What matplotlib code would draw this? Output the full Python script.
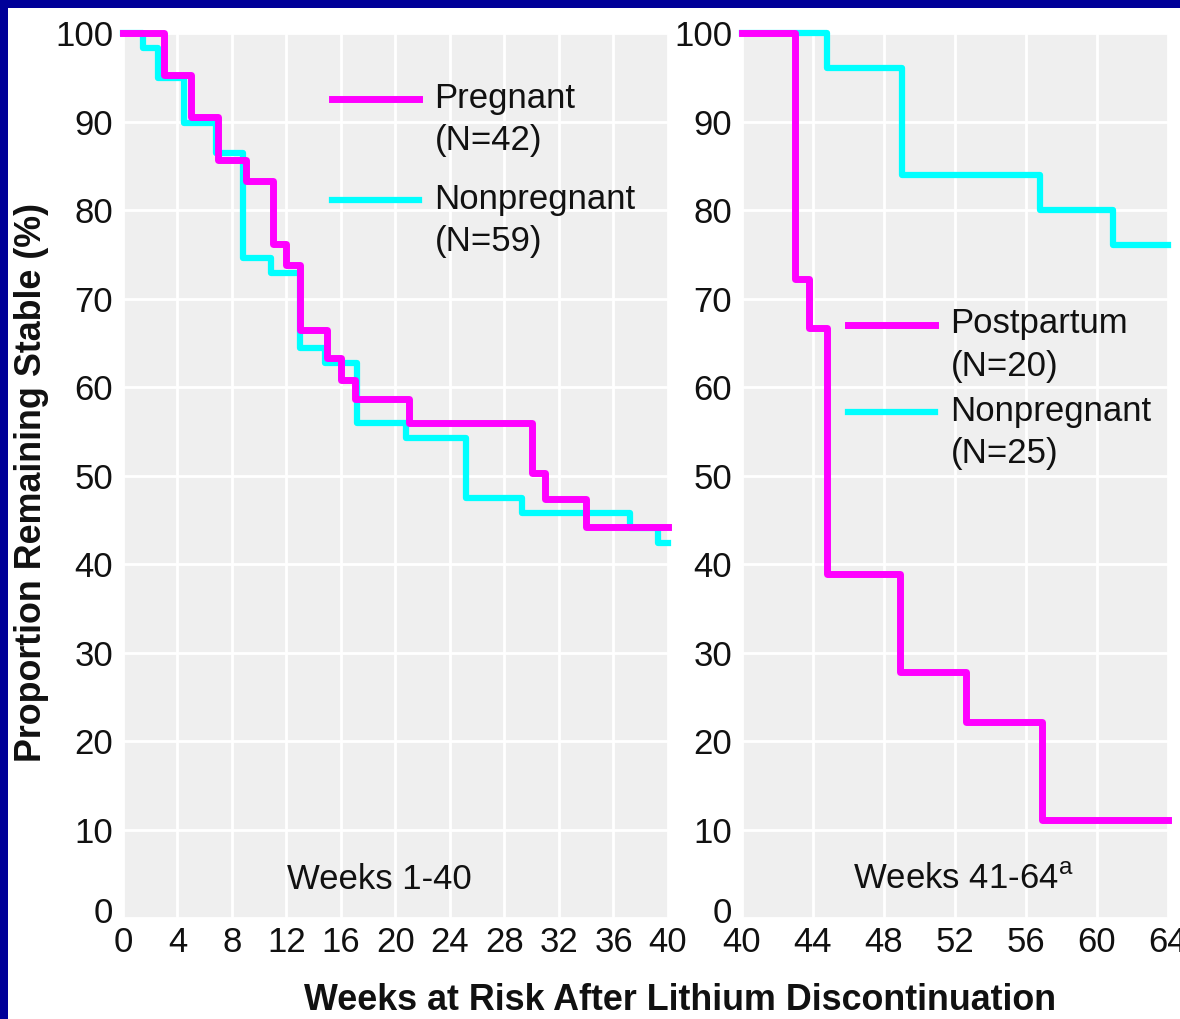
import matplotlib
matplotlib.use("Agg")
import matplotlib.pyplot as plt
from matplotlib.patches import Rectangle
from matplotlib.legend_handler import HandlerLine2D
from matplotlib.transforms import ScaledTranslation

plt.rcParams['font.family'] = ['Liberation Sans', 'DejaVu Sans']
plt.rcParams['mathtext.fontset'] = 'custom'
plt.rcParams['mathtext.rm'] = 'Liberation Sans'

# weeks 1-40
preg_weeks = [0, 3, 5, 7, 9, 11, 12, 13, 15, 16, 17, 21, 30, 31, 34, 40]
preg_stable = [100, 95.2, 90.5, 85.7, 83.3, 76.2, 73.8, 66.4, 63.3, 60.8, 58.6,
               55.9, 50.3, 47.3, 44.2, 44.2]
nonpreg1_weeks = [0, 1.5, 2.6, 4.5, 6.8, 8.8, 10.9, 13, 14.8, 17.2, 20.8, 25.2,
                  29.3, 37.2, 39.3, 40]
nonpreg1_stable = [100, 98.3, 94.9, 89.8, 86.4, 74.6, 72.9, 64.4, 62.7, 55.9,
                   54.2, 47.5, 45.8, 44.1, 42.4, 42.4]

# weeks 41-64
post_weeks = [40, 43, 43.8, 44.8, 48.9, 52.6, 56.9, 64]
post_stable = [100, 72.2, 66.7, 38.9, 27.8, 22.2, 11.1, 11.1]
nonpreg2_weeks = [40, 44.8, 49, 56.8, 60.9, 64]
nonpreg2_stable = [100, 96, 84, 80, 76, 76]

magenta = '#ff00ff'
cyan = '#00ffff'
fs = 25
line_sp = 1.36


class FirstLineHandler(HandlerLine2D):
    # put the legend line next to the first line of a two-line label
    def create_artists(self, legend, orig_handle, xdescent, ydescent, width,
                       height, fontsize, trans):
        artists = super().create_artists(legend, orig_handle, xdescent, ydescent,
                                         width, height, fontsize, trans)
        shift = 0.5 * fontsize * 1.2 * line_sp / 1.2 * 0.9
        for a in artists:
            a.set_ydata([y + shift for y in a.get_ydata()])
        return artists


fig = plt.figure(figsize=(11.8, 10.19), dpi=100, facecolor='#000099')
# white page inside the blue frame
fig.patches.append(Rectangle((8 / 1180, 0), 1, 1 - 8 / 1019, transform=fig.transFigure,
                             facecolor='white', edgecolor='none', zorder=-10))

ax1 = fig.add_axes([0.1042, 0.0991, 0.4619, 0.8685])
ax2 = fig.add_axes([0.6288, 0.0991, 0.3610, 0.8685])

for ax, xmin, xmax in [(ax1, 0, 40), (ax2, 40, 64)]:
    ax.set_facecolor('#efefef')
    ax.set_xlim(xmin, xmax)
    ax.set_ylim(0, 100)
    ax.set_xticks(range(xmin, xmax + 1, 4))
    ax.set_yticks(range(0, 101, 10))
    ax.grid(True, color='white', linewidth=2)
    ax.set_axisbelow(True)
    for s in ax.spines.values():
        s.set_visible(False)
    ax.tick_params(length=0, labelsize=fs, colors='#111111')
    ax.tick_params(axis='y', pad=7)
    ax.tick_params(axis='x', pad=6)
    zero = ax.get_yticklabels()[0]
    zero.set_transform(zero.get_transform() + ScaledTranslation(0, 8 / 100, fig.dpi_scale_trans))

ax1.step(nonpreg1_weeks, nonpreg1_stable, where='post', color=cyan, lw=4.5,
         clip_on=False, solid_capstyle='projecting', label='Nonpregnant\n(N=59)')
ax1.step(preg_weeks, preg_stable, where='post', color=magenta, lw=5,
         clip_on=False, solid_capstyle='projecting', label='Pregnant\n(N=42)')
ax2.step(nonpreg2_weeks, nonpreg2_stable, where='post', color=cyan, lw=4.5,
         clip_on=False, solid_capstyle='projecting', label='Nonpregnant\n(N=25)')
ax2.step(post_weeks, post_stable, where='post', color=magenta, lw=5,
         clip_on=False, solid_capstyle='projecting', label='Postpartum\n(N=20)')

for ax, anchor, lsp in [(ax1, (0.3835, 0.945), 0.75), (ax2, (0.249, 0.69), 0.35)]:
    h, l = ax.get_legend_handles_labels()
    leg = ax.legend(h[::-1], l[::-1], loc='upper left', bbox_to_anchor=anchor,
                    frameon=False, fontsize=fs, borderpad=0, borderaxespad=0,
                    handlelength=2.5, handletextpad=0.45, labelspacing=lsp,
                    handler_map={matplotlib.lines.Line2D: FirstLineHandler()})
    for t in leg.get_texts():
        t.set_linespacing(line_sp)
        t.set_color('#111111')

ax1.text(0.47, 0.043, 'Weeks 1-40', transform=ax1.transAxes, ha='center',
         va='center', fontsize=fs, color='#111111')
ax2.text(0.52, 0.043, 'Weeks 41-64$^{\\mathrm{a}}$', transform=ax2.transAxes,
         ha='center', va='center', fontsize=fs, color='#111111')

fig.text(680 / 1180, 1 - 1000 / 1019, 'Weeks at Risk After Lithium Discontinuation',
         ha='center', va='center', fontsize=25.8, fontweight='bold', color='#111111')
fig.text(32 / 1180, 1 - 482 / 1019, 'Proportion Remaining Stable (%)', rotation=90,
         ha='center', va='center', fontsize=25.8, fontweight='bold', color='#111111')

fig.savefig('out.png', dpi=100, facecolor=fig.get_facecolor())
